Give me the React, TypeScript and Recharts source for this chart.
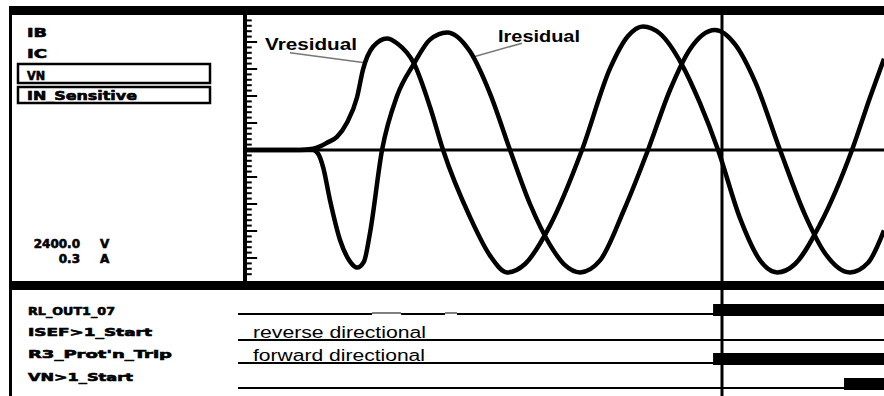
import React from 'react'
import {
  LineChart,
  Line,
  XAxis,
  YAxis,
  ReferenceLine,
  AreaChart,
  Area
} from 'recharts'

// residual voltage trace, time in ms, value in per-unit of the scale
const vresTime = [
  0.15, 4.07, 5.04, 5.56, 6.07, 6.81, 7.56, 8.3, 8.74, 9.48, 10.52, 11.26,
  12.52, 13.7, 14.67, 16.67, 18.15, 19.41, 20.74, 22.59, 24.96, 27.04, 28.37,
  29.48, 30.74, 32.37, 33.7, 35.04, 36.67, 38.15, 39.41, 40.74, 42.59, 44.96,
  46.3, 47.33
]
const vresValue = [
  0, 0, 0.01, 0.03, 0.06, 0.11, 0.23, 0.44, 0.67, 0.86, 0.93, 0.89,
  0.72, 0.36, 0, -0.56, -0.88, -1.02, -0.95, -0.63, 0, 0.68, 0.95,
  1.03, 0.97, 0.71, 0.39, 0, -0.57, -0.92, -1.02, -0.95, -0.62, 0,
  0.44, 0.76
]

// residual current trace
const iresTime = [
  0.15, 4.07, 5.04, 5.41, 5.78, 6.3, 7.04, 7.78, 8.3, 8.81, 9.26, 10.15,
  11.26, 12.52, 13.7, 14.96, 16.67, 18.15, 19.63, 21.11, 22.59, 23.7, 24.81,
  26.3, 28.07, 29.85, 31.48, 32.96, 34.81, 36.3, 37.78, 39.63, 41.48, 42.96,
  44.81, 46.15, 47.33
]
const iresValue = [
  0, 0, 0, -0.03, -0.14, -0.42, -0.75, -0.93, -0.98, -0.93, -0.69, 0,
  0.45, 0.72, 0.92, 0.98, 0.82, 0.47, 0, -0.45, -0.79, -0.96, -1.02,
  -0.92, -0.5, 0, 0.5, 0.84, 1.0, 0.88, 0.57, 0, -0.54, -0.86,
  -1.02, -0.94, -0.67
]

const analogLabels = ['IB', 'IC', 'VN', 'IN_Sensitive']
const scaleLabels = ['2400.0', '0.3']
const scaleUnits = ['V', 'A']

// digital channels: 0 low, 1 high, -1 dropout
const stepTimes = [-0.52, 9.41, 11.56, 14.81, 15.7, 34.67, 44.37, 47.33]
const rlOut1 = [0, -1, 0, -1, 0, 1, 1, 1]
const isefStart = [0, 0, 0, 0, 0, 0, 0, 0]
const protTrip = [0, 0, 0, 0, 0, 1, 1, 1]
const vnStart = [0, 0, 0, 0, 0, 0, 1, 1]
const digitalNames = ['RL_OUT1_07', 'ISEF>1_Start', "R3_Prot'n_Trip", 'VN>1_Start']

const cursorTime = 35.33

// leader lines from the trace captions
const vresLeader = [{ x: 3.33, y: 0.81 }, { x: 8.74, y: 0.73 }]
const iresLeader = [{ x: 20.52, y: 0.89 }, { x: 16.89, y: 0.775 }]

const W = 884
const AXIS_X = 245
const X_MAX = 47.33

const traceTimes = Array.from(new Set([...vresTime, ...iresTime])).sort((a, b) => a - b)
const traceData = traceTimes.map(t => {
  const vi = vresTime.indexOf(t)
  const ii = iresTime.indexOf(t)
  return {
    t,
    vres: vi >= 0 ? vresValue[vi] : null,
    ires: ii >= 0 ? iresValue[ii] : null
  }
})

// graduation ladder on the scale, every fifth mark long
const TICK_STEP = 0.045
const scaleTicks: number[] = []
for (let k = -23; k <= 24; k++) scaleTicks.push(+(k * TICK_STEP).toFixed(3))
const isMajor = (v: number) => {
  const k = Math.round(v / TICK_STEP)
  return k % 5 === 0 && Math.abs(k) <= 20
}

const rowBase = [82, 56, 33, 8]
const digitalRows = [rlOut1, isefStart, protTrip, vnStart]
const stepData = stepTimes.map((t, i) => {
  const row: any = { t }
  digitalRows.forEach((states, k) => {
    const b = rowBase[k]
    const s = states[i]
    row['r' + k] = s === 1 ? [b - 2, b + 10] : s === -1 ? [b + 0.5, b + 1.5] : [b - 1, b + 1]
  })
  return row
})

const labelFont = {
  fontFamily: 'DejaVu Sans',
  fontWeight: 700,
  fontSize: 11,
  stroke: '#000',
  strokeWidth: 0.6
}

export default function App() {
  return (
    <div
      style={{
        position: 'absolute',
        left: 0,
        top: 0,
        width: W,
        height: 396,
        background: '#fff',
        overflow: 'hidden'
      }}
    >
      <div style={{ position: 'absolute', left: 0, top: 0 }}>
        <LineChart
          width={W}
          height={290}
          data={traceData}
          margin={{ top: 15, right: 0, bottom: 8, left: 0 }}
        >
          <XAxis type="number" dataKey="t" domain={[0, X_MAX]} hide allowDataOverflow />
          <YAxis
            width={AXIS_X}
            domain={[-1.1, 1.125]}
            ticks={[]}
            tick={false}
            tickLine={false}
            axisLine={{ stroke: '#000', strokeWidth: 4 }}
            allowDataOverflow
          />
          {scaleTicks.map(v => (
            <ReferenceLine
              key={'g' + v}
              segment={[{ x: 0, y: v }, { x: isMajor(v) ? 0.9 : 0.5, y: v }]}
              stroke="#000"
              strokeWidth={2}
            />
          ))}
          <ReferenceLine y={0} stroke="#000" strokeWidth={3} />
          <ReferenceLine x={cursorTime} stroke="#000" strokeWidth={3} />
          <ReferenceLine segment={vresLeader} stroke="#777" strokeWidth={1.5} />
          <ReferenceLine segment={iresLeader} stroke="#777" strokeWidth={1.5} />
          <Line
            dataKey="vres"
            type="monotone"
            stroke="#000"
            strokeWidth={4.5}
            dot={false}
            connectNulls
            isAnimationActive={false}
          />
          <Line
            dataKey="ires"
            type="monotone"
            stroke="#000"
            strokeWidth={4.5}
            dot={false}
            connectNulls
            isAnimationActive={false}
          />
        </LineChart>
      </div>

      <div style={{ position: 'absolute', left: 0, top: 290 }}>
        <AreaChart
          width={W}
          height={106}
          data={stepData}
          margin={{ top: 0, right: 0, bottom: 0, left: 238 }}
        >
          <XAxis type="number" dataKey="t" domain={[-0.52, X_MAX]} hide allowDataOverflow />
          <YAxis domain={[0, 106]} hide allowDataOverflow />
          {digitalRows.map((_, k) => (
            <Area
              key={k}
              dataKey={'r' + k}
              type="stepAfter"
              stroke="none"
              fill="#000"
              fillOpacity={1}
              isAnimationActive={false}
            />
          ))}
          <ReferenceLine x={cursorTime} stroke="#000" strokeWidth={3} />
        </AreaChart>
      </div>

      <svg
        width={W}
        height={396}
        style={{ position: 'absolute', left: 0, top: 0, pointerEvents: 'none' }}
      >
        {/* frame */}
        <rect x={9} y={6} width={W - 9} height={9} fill="#000" />
        <rect x={9} y={281} width={W - 9} height={9} fill="#000" />
        <rect x={9} y={6} width={3} height={390} fill="#000" />

        {/* analog channel list */}
        <text x={27} y={37} {...labelFont} fontSize={12} textLength={20} lengthAdjust="spacingAndGlyphs">
          {analogLabels[0]}
        </text>
        <text x={27} y={58} {...labelFont} fontSize={12} textLength={20} lengthAdjust="spacingAndGlyphs">
          {analogLabels[1]}
        </text>
        <rect x={18} y={64} width={192} height={19} fill="none" stroke="#000" strokeWidth={2.5} />
        <rect x={18} y={87} width={192} height={16} fill="none" stroke="#000" strokeWidth={2.5} />
        <text x={27} y={80} {...labelFont} fontSize={12} textLength={18} lengthAdjust="spacingAndGlyphs">
          {analogLabels[2]}
        </text>
        <text x={27} y={100} {...labelFont} fontSize={12} textLength={110} lengthAdjust="spacingAndGlyphs">
          {analogLabels[3]}
        </text>

        {/* scale */}
        <text x={80} y={248} {...labelFont} fontSize={12} textAnchor="end">
          {scaleLabels[0]}
        </text>
        <text x={80} y={263} {...labelFont} fontSize={12} textAnchor="end">
          {scaleLabels[1]}
        </text>
        <text x={100} y={248} {...labelFont} fontSize={12}>{scaleUnits[0]}</text>
        <text x={100} y={263} {...labelFont} fontSize={12}>{scaleUnits[1]}</text>

        {/* digital channel names */}
        {digitalNames.map((name, k) => (
          <text
            key={name}
            x={28}
            y={[315, 336, 358, 381][k]}
            {...labelFont}
            textLength={[87, 124, 144, 105][k]}
            lengthAdjust="spacingAndGlyphs"
          >
            {name}
          </text>
        ))}

        {/* trace captions */}
        <text
          x={265}
          y={50}
          fontFamily="Liberation Sans"
          fontWeight={700}
          fontSize={17}
          textLength={92}
          lengthAdjust="spacingAndGlyphs"
        >
          Vresidual
        </text>
        <text
          x={498}
          y={42}
          fontFamily="Liberation Sans"
          fontWeight={700}
          fontSize={17}
          textLength={82}
          lengthAdjust="spacingAndGlyphs"
        >
          Iresidual
        </text>
        <text
          x={253}
          y={338}
          fontFamily="Liberation Sans"
          fontSize={16}
          textLength={173}
          lengthAdjust="spacingAndGlyphs"
        >
          reverse directional
        </text>
        <text
          x={253}
          y={361}
          fontFamily="Liberation Sans"
          fontSize={16}
          textLength={172}
          lengthAdjust="spacingAndGlyphs"
        >
          forward directional
        </text>
      </svg>
    </div>
  )
}
